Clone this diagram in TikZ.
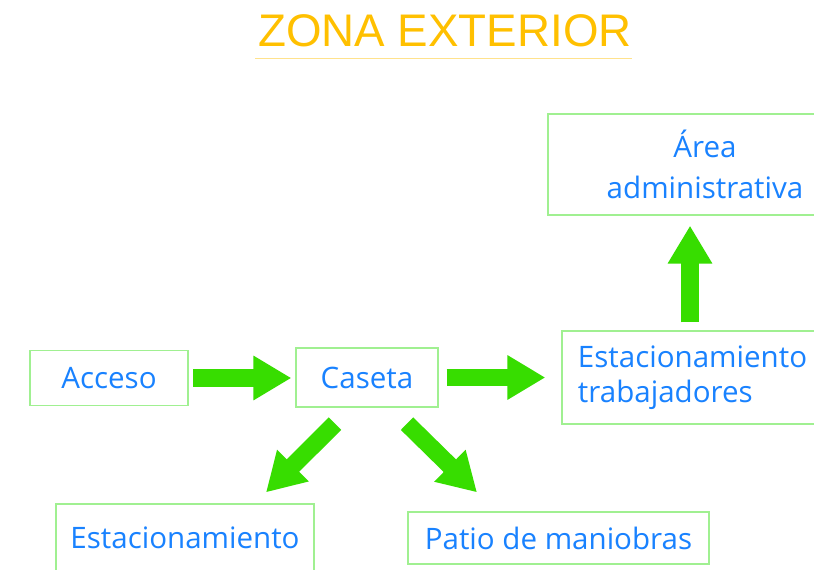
\documentclass[tikz,border=0pt]{standalone}
\usepackage{fontspec}
\setmainfont{Open Sans}
\newfontfamily\titlefont{Liberation Sans}
\usetikzlibrary{arrows.meta}
\definecolor{titleyellow}{RGB}{255,192,0}
\definecolor{lineyellow}{RGB}{255,226,140}
\definecolor{boxgreen}{RGB}{160,240,145}
\definecolor{arrowgreen}{RGB}{55,221,0}
\definecolor{textblue}{RGB}{25,130,255}
\begin{document}
\begin{tikzpicture}[x=0.025cm, y=-0.025cm]
\tikzstyle{caja} = [draw=boxgreen, line width=0.9pt, text=textblue, font=\fontsize{21}{25}\selectfont, inner sep=0pt]
\tikzstyle{flecha} = [draw=arrowgreen, line width=0.44cm, -{Triangle[length=0.95cm, width=1.05cm]}]
\fill[white] (0,0) rectangle (814,570);
\useasboundingbox (0,0) rectangle (814,570);
\clip (0,0) rectangle (814,570);
% titulo
\node[text=titleyellow, font=\titlefont\fontsize{32.5}{36}\selectfont, anchor=base, inner sep=0pt] (titulo) at (445,47) {ZONA EXTERIOR};
\draw[lineyellow, line width=0.6pt] ([shift={(-3,11)}]titulo.base west) -- ([shift={(0,11)}]titulo.base east);
% cajas
\node[caja, minimum width=3.95cm, minimum height=1.375cm] (acceso) at (109,378) {Acceso};
\node[caja, minimum width=3.55cm, minimum height=1.475cm] (caseta) at (367,377.5) {Caseta};
\node[caja, minimum width=6.45cm, minimum height=1.7cm] (estac) at (185,538) {Estacionamiento};
\node[caja, minimum width=7.525cm, minimum height=1.3cm] (patio) at (558.5,538) {Patio de maniobras};
\node[caja, text width=5.6cm, inner xsep=0.4cm, minimum height=2.325cm, align=left] (trab) at (690,377.5) {Estacionamiento\\ trabajadores};
\node[caja, minimum width=7.85cm, minimum height=2.525cm, align=center, font=\fontsize{21}{29}\selectfont] (area) at (705,164.5) {Área\\ administrativa};
% flechas
\foreach \from/\to/\s/\e in {acceso/caseta/0.12/0.1, caseta/trab/0.2/0.4}
\draw[flecha, shorten <=\s cm, shorten >=\e cm] (\from.east) -- (\from.east -| \to.west);
\draw[flecha, shorten <=0.2cm, shorten >=0.25cm] (trab.north) -- (trab.north |- area.south);
\draw[flecha] ([shift={(-32,16)}]caseta.south) -- ([shift={(81,-11)}]estac.north);
\draw[flecha] ([shift={(40,16)}]caseta.south) -- ([shift={(-81.5,-19)}]patio.north);
\end{tikzpicture}
\end{document}
